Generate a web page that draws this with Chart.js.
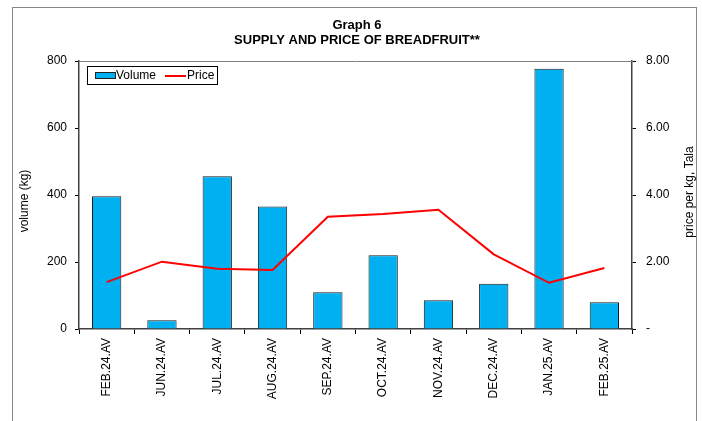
<!DOCTYPE html>
<html><head><meta charset="utf-8">
<script src="https://cdn.jsdelivr.net/npm/chart.js@4.4.1/dist/chart.umd.min.js"></script>
<style>html,body{margin:0;padding:0;background:#fff}#wrap{width:702px;height:421px;position:relative}</style>
</head><body><div id="wrap"><canvas id="c" width="702" height="421"></canvas></div>
<script>
const categories = ['FEB.24.AV','JUN.24.AV','JUL.24.AV','AUG.24.AV','SEP.24.AV','OCT.24.AV','NOV.24.AV','DEC.24.AV','JAN.25.AV','FEB.25.AV'];
const volume = [396, 26, 456, 366, 110, 220, 86, 135, 777, 80];
const price = [1.40, 2.01, 1.80, 1.76, 3.35, 3.43, 3.56, 2.23, 1.38, 1.82];
const volumeTicks = [0, 200, 400, 600, 800];
const priceTicks = [0, 2, 4, 6, 8];
const titleLines = ['Graph 6', 'SUPPLY AND PRICE OF BREADFRUIT**'];
const leftTitle = 'volume (kg)';
const rightTitle = 'price per kg, Tala';
const legendLabels = ['Volume', 'Price'];

const FONT = '"Liberation Sans", Arial, sans-serif';
const BAR_COLOR = '#00B0F0';
const LINE_COLOR = '#FF0000';
const AXIS_COLOR = '#404040';

const deco = {
  id: 'deco',
  afterDraw(chart) {
    const ctx = chart.ctx;
    const ca = chart.chartArea;
    ctx.save();
    // outer frame
    ctx.strokeStyle = '#888';
    ctx.lineWidth = 1;
    ctx.strokeRect(12.5, 7.5, 684, 460);
    // top of plot area
    ctx.strokeStyle = '#808080';
    ctx.beginPath();
    ctx.moveTo(ca.left, Math.round(ca.top) + 0.5);
    ctx.lineTo(ca.right, Math.round(ca.top) + 0.5);
    ctx.stroke();
    // titles
    ctx.fillStyle = '#000';
    ctx.textAlign = 'center';
    ctx.textBaseline = 'alphabetic';
    ctx.font = 'bold 13px ' + FONT;
    ctx.fillText(titleLines[0], 357, 29);
    ctx.fillText(titleLines[1], 357, 44);
    // axis titles
    ctx.font = '12px ' + FONT;
    ctx.textBaseline = 'middle';
    ctx.save();
    ctx.translate(25, 201);
    ctx.rotate(-Math.PI / 2);
    ctx.fillText(leftTitle, 0, 0);
    ctx.restore();
    ctx.save();
    ctx.translate(690, 192);
    ctx.rotate(-Math.PI / 2);
    ctx.fillText(rightTitle, 0, 0);
    ctx.restore();
    // legend
    ctx.fillStyle = '#fff';
    ctx.fillRect(87, 66, 130, 19);
    ctx.strokeStyle = '#000';
    ctx.strokeRect(87.5, 66.5, 130, 18);
    ctx.fillStyle = BAR_COLOR;
    ctx.fillRect(95, 72, 20, 6);
    ctx.strokeStyle = '#222';
    ctx.strokeRect(95.5, 72.5, 20, 6);
    ctx.fillStyle = '#000';
    ctx.textAlign = 'left';
    ctx.textBaseline = 'middle';
    ctx.font = '12px ' + FONT;
    ctx.fillText(legendLabels[0], 116, 76);
    ctx.strokeStyle = LINE_COLOR;
    ctx.lineWidth = 2;
    ctx.beginPath();
    ctx.moveTo(165, 76);
    ctx.lineTo(186, 76);
    ctx.stroke();
    ctx.fillText(legendLabels[1], 187, 76);
    ctx.restore();
  }
};

new Chart(document.getElementById('c'), {
  data: {
    labels: categories,
    datasets: [
      { type: 'line', label: legendLabels[1], data: price, yAxisID: 'y1', borderColor: LINE_COLOR, borderWidth: 2, pointRadius: 0, tension: 0, order: 1 },
      { type: 'bar', label: legendLabels[0], data: volume, yAxisID: 'y', backgroundColor: BAR_COLOR, borderColor: '#1a1a1a', borderWidth: 1, barPercentage: 0.53, categoryPercentage: 1, order: 2 }
    ]
  },
  options: {
    responsive: false,
    animation: false,
    devicePixelRatio: 1,
    layout: { padding: { top: 61, left: 0, right: 0, bottom: 0 } },
    plugins: { legend: { display: false }, title: { display: false }, tooltip: { enabled: false } },
    scales: {
      x: {
        type: 'category',
        offset: true,
        grid: { offset: true, drawOnChartArea: false, tickLength: 5, color: '#000' },
        border: { color: AXIS_COLOR, width: 1.5 },
        ticks: { minRotation: 90, maxRotation: 90, autoSkip: false, padding: 4, color: '#000', font: { family: FONT, size: 12 } },
        afterFit(s) { s.height = 92; }
      },
      y: {
        position: 'left',
        min: volumeTicks[0], max: volumeTicks[volumeTicks.length - 1],
        afterBuildTicks(s) { s.ticks = volumeTicks.map(v => ({ value: v })); },
        grid: { drawOnChartArea: false, tickLength: 4, color: '#000' },
        border: { color: AXIS_COLOR, width: 1.5 },
        ticks: { padding: 8, color: '#000', font: { family: FONT, size: 12 } },
        afterFit(s) { s.width = 79; }
      },
      y1: {
        position: 'right',
        min: priceTicks[0], max: priceTicks[priceTicks.length - 1],
        afterBuildTicks(s) { s.ticks = priceTicks.map(v => ({ value: v })); },
        grid: { drawOnChartArea: false, tickLength: 4, color: '#000' },
        border: { color: AXIS_COLOR, width: 1.5 },
        ticks: { padding: 10, color: '#000', font: { family: FONT, size: 12 }, callback: v => v === 0 ? '-' : Number(v).toFixed(2) },
        afterFit(s) { s.width = 70; }
      }
    }
  },
  plugins: [deco]
});
</script></body></html>
